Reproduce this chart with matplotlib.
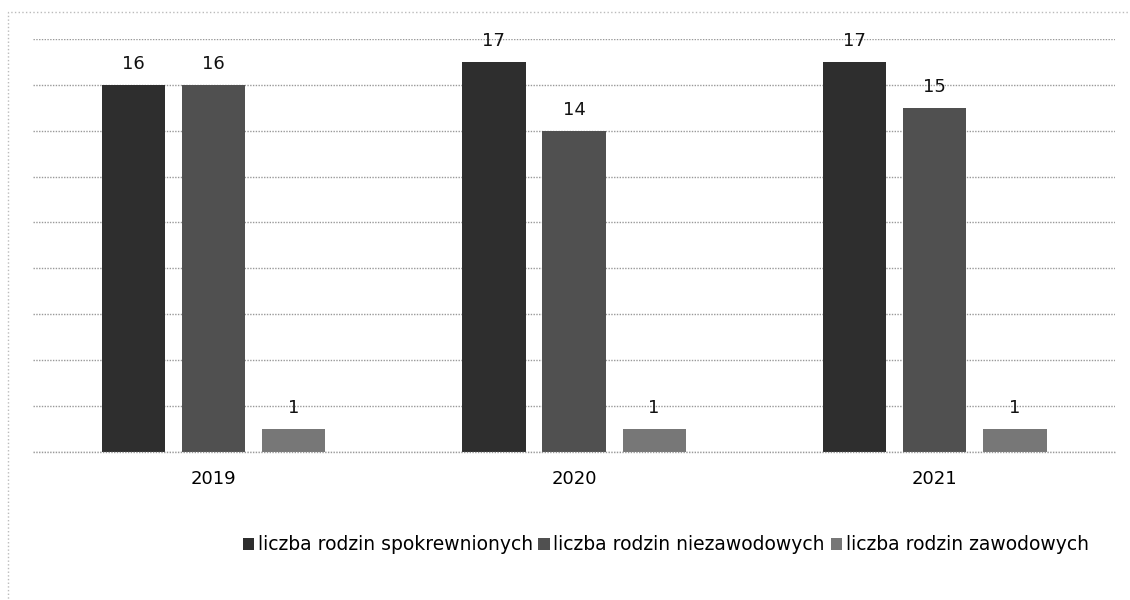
import numpy as np
import matplotlib.pyplot as plt

# dane
years = ['2019', '2020', '2021']
series_names = ['liczba rodzin spokrewnionych',
                'liczba rodzin niezawodowych',
                'liczba rodzin zawodowych']
spokrewnione = [16, 17, 17]
niezawodowe = [16, 14, 15]
zawodowe = [1, 1, 1]

colors = ['#2e2e2e', '#505050', '#777777']
plt.rcParams['font.family'] = ['DejaVu Sans']

fig = plt.figure(figsize=(11.3, 6), dpi=100)
ax = fig.add_axes([0.029, 0.247, 0.958, 0.688])

x = np.arange(len(years))
width = 0.175
offset = 0.222

for i, (vals, name) in enumerate(zip([spokrewnione, niezawodowe, zawodowe], series_names)):
    pos = x + (i - 1) * offset
    bars = ax.bar(pos, vals, width, color=colors[i], label=name, zorder=3)
    for b, v in zip(bars, vals):
        ax.text(b.get_x() + b.get_width() / 2, v + 0.5, str(v),
                ha='center', va='bottom', fontsize=13, color='#111111')

ax.set_xlim(-0.5, 2.5)
ax.set_ylim(0, 18)
ax.set_yticks(np.arange(0, 19, 2))
ax.set_yticklabels([])
ax.set_xticks(x)
ax.set_xticklabels(years, fontsize=13)
ax.tick_params(axis='both', length=0)
ax.tick_params(axis='x', pad=13)
ax.grid(axis='y', color='#999999', linestyle=(0, (1, 1)), linewidth=1, zorder=0)
ax.axhline(0, color='#999999', linestyle=(0, (1, 1)), linewidth=1, zorder=4, clip_on=False)
for s in ax.spines.values():
    s.set_visible(False)

ax.legend(loc='center', bbox_to_anchor=(0.589, 0.092), bbox_transform=fig.transFigure,
          ncol=3, frameon=False, fontsize=13.5, handlelength=0.6, handleheight=0.6,
          handletextpad=0.2, columnspacing=0.3)

# ramka wykresu
fig.add_artist(plt.Rectangle((0.007, -0.05), 1.1, 1.03, transform=fig.transFigure,
                             fill=False, edgecolor='#bbbbbb', linewidth=1, linestyle=':'))

plt.savefig('out.png')
